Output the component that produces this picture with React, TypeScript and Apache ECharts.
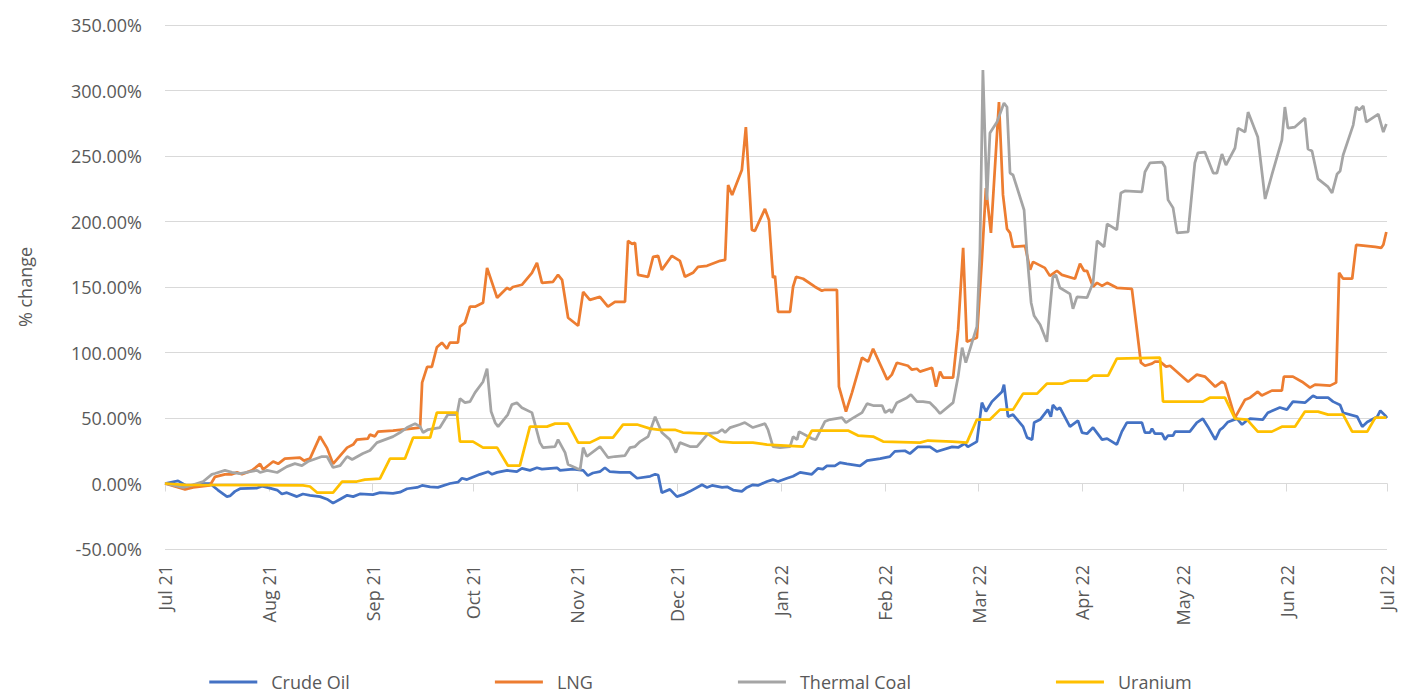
import React, { useEffect, useRef } from "react";
import * as echarts from "echarts";

// Each point: [days since 1 Jul 2021, % change]
const crudeOil: [number, number][] = [
  [0, 0], [3.9, 2], [6.6, -2], [11.4, 0], [13.4, 0], [15.8, -5], [18.5, -10], [19.4, -9.5], [20.9, -6], [22.4, -4],
  [27.5, -3.5], [29, -2], [30.5, -3], [33.5, -5], [34.9, -8], [36.4, -7], [39.4, -10], [41.2, -8], [43.3, -9], [46.3, -10],
  [48.4, -12], [50.2, -15], [52.3, -12], [54.4, -9], [56.2, -10], [58.2, -8], [62.1, -8.5], [64.2, -7], [68.1, -7.5], [70.2, -6.6],
  [72.3, -4], [75.3, -3], [76.8, -1.5], [79.2, -2.5], [81.5, -3], [85.1, 0], [87.5, 1], [88.7, 4], [90.2, 3], [94.1, 7],
  [96.5, 9], [97.7, 7], [99.2, 8.5], [102.2, 10], [105.1, 9], [106.6, 11.5], [109, 10], [111.1, 12], [112.6, 11], [117.1, 12],
  [118, 10], [121.9, 11], [124.9, 10], [126.3, 6], [127.8, 8], [129.9, 9], [131.4, 12], [132.9, 9], [135.9, 8.5], [138.9, 8.5],
  [141, 4], [144.9, 5.5], [146.4, 7], [147.3, 6.5], [148.4, -7], [150.8, -4.5], [152.9, -10], [154.7, -8.5], [156.8, -6], [160.4, -1],
  [161.9, -3], [163.4, -1.5], [166.4, -3], [167.9, -2.5], [169.7, -5], [172.3, -6], [173.8, -3], [175.6, -1], [177.1, -1.5], [179.8, 1.5],
  [181.6, 3], [183.1, 1.5], [185.8, 4], [187.6, 5.5], [189.7, 8.5], [193.2, 7], [195, 11.5], [196.5, 11], [197.7, 13.5], [200.1, 13.5],
  [201.6, 16], [203.7, 15], [207.6, 13.5], [209.7, 17.5], [213.6, 19], [216.5, 20.5], [218, 24.5], [221, 25], [222.5, 22.8], [224.9, 28],
  [228.5, 28], [230.6, 24.4], [235.1, 28], [236.9, 27.5], [238.9, 30.5], [239.8, 28], [242.5, 32], [244, 61.7], [245.2, 55], [247, 62.5],
  [250, 70], [250.6, 75.4], [251.8, 51], [253.3, 52.6], [256.3, 43.4], [257.5, 35], [259, 33.5], [259.6, 46.5], [261.4, 48.8], [263.7, 56.4],
  [264.6, 51], [265.2, 60], [266.4, 56.4], [267.3, 58], [270.3, 43.4], [272.7, 48], [273.9, 38.9], [275.4, 38], [277.2, 42.7], [279.9, 33.5],
  [281.4, 34.3], [284.3, 29.7], [285.8, 39.6], [287.3, 46.5], [291.8, 46.5], [292.7, 38.9], [294.2, 38.9], [294.8, 41.9], [295.7, 38], [297.8, 38],
  [298.7, 33.5], [299.6, 36.6], [301.1, 36.6], [301.7, 39.6], [306.1, 39.6], [308.2, 46.5], [310, 49.5], [311.5, 43.4], [313.7, 33.5], [315.1, 41],
  [316, 42.7], [317.5, 47], [320.2, 49.5], [321.7, 45], [322.6, 47], [324.1, 49.5], [327.9, 48.8], [329.4, 54], [333, 58], [335.1, 56.4],
  [336.9, 62.5], [340.5, 61.7], [342.9, 67], [344.1, 65.5], [347.4, 65.5], [348.9, 62.5], [351, 60], [351.9, 54], [356.1, 51], [357.6, 43.4],
  [359.1, 47], [362.1, 51], [363, 55.6], [364.5, 51.8], [365, 50],
];

const lng: [number, number][] = [
  [0, 0], [6, -4.5], [8.4, -3], [13.4, -1.5], [14.9, 5], [17.9, 7], [20, 7], [21.5, 8.5], [23, 7], [26, 10],
  [28.4, 15], [29.3, 10.7], [32.3, 16.8], [33.8, 15], [35.8, 19], [40.3, 19.8], [41.5, 17.5], [43.3, 19], [46.3, 36], [48.4, 27],
  [50.2, 15], [54.4, 27.4], [56.2, 29.7], [57.3, 33.5], [60.6, 34.3], [61.2, 37.3], [62.7, 36], [63.6, 39.6], [68.1, 40.4], [70.2, 41],
  [76.2, 42.7], [76.8, 77], [78.3, 89], [79.7, 89], [81.2, 104], [82.7, 107.5], [84.2, 103], [85.1, 107.5], [87.5, 107.5], [88.1, 119.7],
  [89.6, 122.7], [91.1, 135], [92.6, 135], [95, 138], [96.2, 164.6], [99.2, 141.8], [102.2, 149.4], [103, 147.9], [103.9, 150], [106.6, 151.7],
  [109.6, 160.8], [111.1, 168.4], [112.6, 153.2], [115.9, 154], [117.4, 159.3], [118.6, 155.5], [120.4, 126.5], [123.4, 120.4], [124.9, 146.3], [126.9, 140.2],
  [129.9, 142.5], [132.3, 135], [134.4, 138.7], [137.4, 138.7], [138.3, 185.2], [139.5, 182.9], [140.4, 183.7], [141.3, 159.3], [144.3, 157.8], [145.8, 173],
  [147.3, 173.8], [148.4, 163.1], [151.4, 173.8], [153.8, 170], [155.3, 157.8], [157.7, 160.8], [159.2, 165.4], [161.9, 166.2], [165.8, 170], [167.3, 170.7],
  [168.2, 227.9], [169.4, 220.3], [172.3, 239.3], [173.5, 272.1], [175.3, 193.6], [176.2, 192.8], [179.2, 209.6], [180.4, 201.2], [181.6, 157], [182.2, 158.5],
  [183.1, 131.1], [186.7, 131.1], [187.6, 150.2], [188.5, 157.8], [190.6, 156.3], [194.1, 150.2], [196.2, 147.1], [197.1, 147.9], [200.7, 147.9], [201.3, 73.9],
  [203.4, 54.9], [205.2, 69.4], [208.2, 96], [210, 93], [211.5, 102.9], [215.7, 79.3], [217.1, 83.1], [218.6, 92.2], [221.9, 89.9], [223.1, 86.9],
  [224.6, 87.6], [225.5, 85.4], [229.1, 88.4], [230.3, 73.9], [231.5, 85.4], [232.4, 80.8], [235.4, 80.8], [236.9, 117.4], [238.4, 179.9], [239.5, 108.2],
  [242.5, 111.3], [244, 170.7], [245.2, 225.6], [246.7, 191.3], [249.1, 291.2], [250.3, 220.3], [251.5, 194.4], [252.4, 191.3], [253.3, 180.6], [256.9, 181.4],
  [258.4, 163.1], [259.3, 169.2], [262.8, 164.6], [264.3, 158.5], [266.4, 162.4], [267.9, 159.3], [271.8, 156.3], [273.3, 167.7], [274.5, 162.4], [275.4, 162.4],
  [277.2, 150.2], [278.4, 153.2], [279.9, 150.9], [281.4, 153.2], [284.3, 149.4], [288.8, 148.6], [291.5, 92.2], [292.7, 89.9], [294.8, 91.5], [295.7, 93],
  [297.2, 93], [299, 89.2], [300.2, 89.9], [305.6, 77.7], [308.2, 83.1], [310.6, 81.6], [313.7, 73.9], [315.7, 77.7], [316.6, 76.2], [319.6, 50.3],
  [322.6, 64], [324.1, 65.5], [326.4, 70.1], [327.6, 67.1], [330.6, 70.9], [333.6, 70.9], [334.2, 81.6], [336.9, 81.6], [339.6, 77.7], [342, 73.2],
  [343.5, 75.5], [348, 74.7], [349.8, 77], [350.7, 160.8], [351.9, 156.3], [354.6, 156.3], [355.8, 182.2], [361.5, 180.6], [363.3, 179.9], [363.9, 182.2],
  [364.8, 192],
];

const thermalCoal: [number, number][] = [
  [0, 0], [5.4, -3], [8.4, -1], [11.4, 1.5], [14, 7], [14.9, 7.6], [17.9, 10], [20, 8.5], [22.4, 7.6], [25.4, 9],
  [27.5, 10], [28.4, 8.4], [30.5, 10], [33.5, 8.4], [36.4, 12.9], [38.8, 15.2], [40.9, 13.7], [42.7, 16.8], [46.9, 20.6], [48.4, 20.6],
  [50.2, 12.2], [52.3, 13.7], [54.4, 20.6], [55.9, 18.3], [59.1, 22.9], [61.2, 25.2], [63.3, 31.2], [68.1, 35.8], [70.2, 38.9], [72.3, 42.7],
  [74.7, 45.7], [76.2, 43.4], [77.1, 38.9], [78.6, 41.2], [82.1, 42.7], [84.5, 52.6], [87.2, 52.6], [88.1, 64.8], [89.6, 61.7], [91.1, 62.5],
  [92.6, 69.4], [95, 77.7], [96.2, 87.6], [97.4, 54.9], [98.6, 46.5], [99.5, 43.4], [102.4, 52.6], [103.6, 60.2], [105.1, 61.7], [106.6, 57.9],
  [109.6, 54.1], [112, 31.2], [112.9, 27.4], [116.5, 28.2], [117.4, 33.5], [119.5, 23.6], [120.4, 14.5], [123.1, 11.4], [124, 10.7], [124.9, 27.4],
  [126, 20.6], [129.9, 28.2], [132.3, 19.8], [134.4, 20.6], [137.4, 21.3], [138.9, 27.4], [140.4, 28.2], [141.9, 32], [144.3, 35.8], [146.4, 51],
  [148.4, 38.9], [150.8, 33.5], [151.7, 28.2], [152.6, 23.6], [153.8, 31.2], [156.8, 28.2], [158.9, 28.2], [162.2, 38.1], [165.1, 38.9], [166.4, 41.2],
  [167.3, 38.9], [168.8, 42.7], [171.7, 45], [173.2, 46.5], [175.6, 42.7], [179.2, 45.7], [180.1, 41.2], [181.6, 28.2], [183.7, 27.4], [186.7, 28.2],
  [187.6, 35.8], [188.8, 33.5], [189.4, 39.6], [193.2, 34.3], [194.4, 33.5], [197.1, 47.3], [198.6, 48.8], [202.2, 50.3], [203.4, 46.5], [205.2, 49.5],
  [208.2, 54.1], [209.7, 61], [211.5, 59.5], [214.2, 59.5], [215.1, 54.1], [216.5, 56.4], [217.1, 54.1], [218.6, 61.7], [221.6, 65.5], [222.8, 67.8],
  [224.6, 62.5], [226.4, 62.5], [228.5, 61.7], [230, 57.9], [231.5, 53.4], [235.4, 61.7], [236.9, 81.6], [238.1, 103.7], [239.2, 92.2], [242.5, 119.7],
  [243.4, 176.1], [244.3, 315.6], [245.5, 216.5], [246.4, 267.5], [248.5, 275.9], [250.6, 290.4], [251.5, 287.4], [252.4, 237], [253.3, 235.5], [256.6, 208.8],
  [257.5, 174.5], [258.7, 138], [259.6, 128], [261.4, 121.2], [263.4, 108.2], [265.2, 157.8], [266.1, 159.3], [267.3, 149.4], [270.3, 144.8], [271.2, 133.4],
  [272.4, 142.5], [275.4, 141.8], [277.2, 153.2], [278.4, 185.2], [280.5, 180.6], [281.4, 198.2], [284.3, 193.6], [285.5, 221.8], [286.7, 223.3], [291.8, 222.6],
  [292.7, 237.8], [294.2, 244.7], [297.8, 245.4], [298.7, 241.6], [299.6, 216.5], [301.1, 210.4], [302.3, 191.3], [305.6, 192.1], [307.6, 244.7], [308.5, 252.3],
  [310.6, 253], [313.1, 237], [314.2, 237], [315.7, 251.5], [316.9, 243.1], [319.6, 256.1], [320.5, 271.3], [322.6, 268.3], [323.5, 283.5], [326.4, 264.5],
  [328.6, 217.2], [330.6, 235.5], [333.6, 262.2], [334.5, 287.4], [335.4, 271.3], [337.5, 272.1], [340.5, 278.9], [341.4, 255.3], [342.6, 253.8], [344.4, 232.5],
  [347.4, 226.4], [348.6, 221.8], [350.1, 236.3], [351, 238.6], [351.9, 250.8], [354.9, 273.6], [355.8, 287.4], [356.7, 285], [357.9, 288.1], [358.8, 275.9],
  [362.4, 282], [363.9, 268.3], [364.8, 274.4],
];

const uranium: [number, number][] = [
  [0, 0], [6, -1], [41.2, -1.5], [43.3, -2.3], [45.4, -6.9], [50.2, -6.9], [52.9, 1.5], [57.3, 1.5], [59.7, 3], [64.2, 3.8],
  [67.2, 19], [71.7, 19], [74.1, 35], [79.2, 35], [81.2, 54.1], [87.2, 54.1], [88.1, 32], [92, 32], [95, 27.4], [99.2, 27.4],
  [102.4, 13.7], [106, 13.7], [109, 43.4], [114.1, 43.4], [116.5, 45.7], [120.4, 45.7], [123.4, 31.2], [126.9, 31.2], [129.9, 35], [133.8, 35],
  [136.8, 45], [141, 45], [144.9, 41.9], [147.8, 41], [152.3, 41], [154.7, 38.9], [161.9, 38.1], [165.8, 32], [169.7, 31.2], [175.6, 31.2],
  [179.8, 29.7], [190.6, 28.2], [193.2, 40.4], [204, 40.4], [207, 36.6], [211.5, 35.8], [214.5, 32], [225.5, 31.2], [227.9, 32.8], [235.1, 32],
  [239.5, 31.2], [242.5, 48.8], [246.4, 48.8], [249.4, 56.4], [253.3, 56.4], [256.3, 68.6], [260.5, 68.6], [263.4, 76.2], [267.9, 76.2], [270.3, 78.5],
  [275.4, 78.5], [277.2, 82.3], [281.7, 82.3], [284.3, 95.3], [297.2, 96], [298.1, 62.5], [310, 62.5], [312.1, 65.5], [316.6, 65.5], [319.6, 49.5],
  [323.2, 48.8], [326.4, 39.6], [330.6, 39.6], [333.6, 43.4], [337.5, 43.4], [340.5, 54.9], [344.4, 54.9], [347.4, 52.6], [351.9, 52.6], [354.6, 39.6],
  [359.1, 39.6], [361.5, 50.3], [364.8, 50.3],
];

const seriesNames = ["Crude Oil", "LNG", "Thermal Coal", "Uranium"];
const seriesColors = ["#4472C4", "#ED7D31", "#A5A5A5", "#FFC000"];
const monthNames = ["Jan", "Feb", "Mar", "Apr", "May", "Jun", "Jul", "Aug", "Sep", "Oct", "Nov", "Dec"];

const START = new Date(2021, 6, 1).getTime();
const END = new Date(2022, 6, 1).getTime();
const DAY = 86400000;

const toTime = (pts: [number, number][]) => pts.map(([d, v]) => [START + d * DAY, v]);

export default function App() {
  const ref = useRef<HTMLDivElement>(null);

  useEffect(() => {
    document.body.style.margin = "0";
    if (!ref.current) return;
    const chart = echarts.init(ref.current, undefined, { renderer: "svg" });
    const font = "'Open Sans', 'Noto Sans', sans-serif";
    const all = [crudeOil, lng, thermalCoal, uranium];
    chart.setOption({
      animation: false,
      backgroundColor: "#ffffff",
      grid: { left: 165, right: 14, top: 25, bottom: 148 },
      legend: {
        data: seriesNames,
        left: "center",
        top: 668,
        icon: "rect",
        itemWidth: 48,
        itemHeight: 3,
        itemGap: 145,
        textStyle: { color: "#595959", fontSize: 18, fontFamily: font, padding: [0, 0, 0, 9] },
      },
      xAxis: {
        type: "time",
        min: START,
        max: END,
        splitNumber: 12,
        minInterval: 28 * DAY,
        maxInterval: 31 * DAY,
        axisLine: { onZero: true, lineStyle: { color: "#d9d9d9", width: 1 } },
        axisTick: { show: true, length: 8, lineStyle: { color: "#d9d9d9" } },
        splitLine: { show: false },
        axisLabel: {
          rotate: 90,
          margin: 16,
          color: "#595959",
          fontSize: 18,
          fontFamily: font,
          showMinLabel: true,
          showMaxLabel: true,
          formatter: (val: number) => {
            const d = new Date(val);
            return `${monthNames[d.getMonth()]} ${String(d.getFullYear()).slice(2)}`;
          },
        },
      },
      yAxis: {
        type: "value",
        min: -50,
        max: 350,
        interval: 50,
        name: "% change",
        nameLocation: "middle",
        nameRotate: 90,
        nameGap: 131,
        nameTextStyle: { color: "#595959", fontSize: 18, fontFamily: font },
        axisLine: { show: false },
        axisTick: { show: false },
        splitLine: { lineStyle: { color: "#d9d9d9", width: 1 } },
        axisLabel: {
          margin: 23,
          color: "#595959",
          fontSize: 18,
          fontFamily: font,
          formatter: (v: number) => `${v.toFixed(2)}%`,
        },
      },
      series: all.map((pts, i) => ({
        name: seriesNames[i],
        type: "line",
        data: toTime(pts),
        showSymbol: false,
        symbol: "none",
        color: seriesColors[i],
        lineStyle: { width: 2.75, color: seriesColors[i] },
      })),
    });
    return () => chart.dispose();
  }, []);

  return <div ref={ref} style={{ width: 1401, height: 697 }} />;
}
